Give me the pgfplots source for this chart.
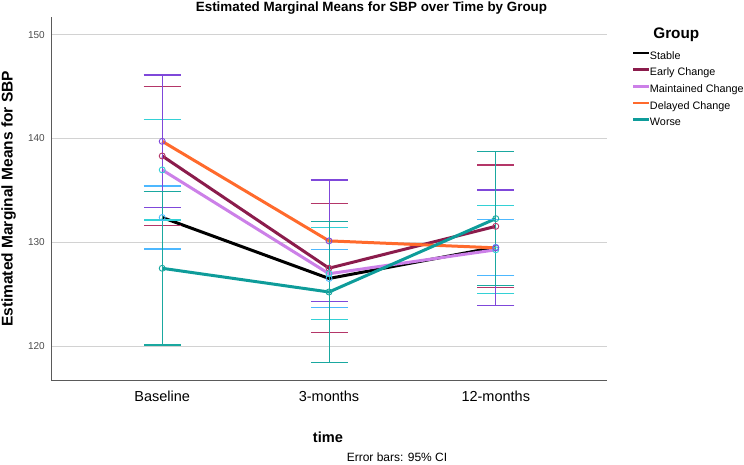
\documentclass[border=0pt]{standalone}
\usepackage{pgfplots}
\pgfplotsset{compat=1.18}
\usepackage{fontspec}
\setmainfont{Liberation Sans}
\definecolor{cEarly}{HTML}{8B1C4C}
\definecolor{cMaint}{HTML}{CC80E8}
\definecolor{cDelay}{HTML}{FF6A2C}
\definecolor{cWorse}{HTML}{0E9C9A}
\definecolor{eStable}{HTML}{4DB8FF}
\definecolor{eEarly}{HTML}{B43668}
\definecolor{eMaint}{HTML}{33D1D6}
\definecolor{eDelay}{HTML}{7F48DA}
\definecolor{eWorse}{HTML}{1AA8A0}
\definecolor{gridc}{HTML}{D2D2D2}
\definecolor{axc}{HTML}{5A5A5A}

\pgfplotstableread{
x y e
0 132.40 3.03
1 126.53 2.81
2 129.54 2.70
}\stable
\pgfplotstableread{
x y e
0 138.32 6.71
1 127.52 6.21
2 131.55 5.91
}\early
\pgfplotstableread{
x y e
0 136.98 4.82
1 126.99 4.43
2 129.29 4.23
}\maint
\pgfplotstableread{
x y e
0 139.73 6.39
1 130.15 5.86
2 129.48 5.57
}\delay
\pgfplotstableread{
x y e
0 127.51 7.38
1 125.23 6.77
2 132.29 6.45
}\worse

\pgfplotsset{
  errbar/.style={only marks, mark=o, mark size=3pt, mark options={line width=0.9pt, fill=none, draw=#1},
    error bars/.cd, y dir=both, y explicit,
    error mark=|, error mark options={mark size=18.5pt, line width=1.2pt, draw=#1},
    error bar style={line width=1pt, draw=#1}},
}

\begin{document}
\begin{tikzpicture}
\useasboundingbox (-51pt,-83.7pt) rectangle (693pt,380.3pt);
\begin{axis}[
  at={(0,0)}, anchor=south west, scale only axis,
  width=556pt, height=363pt,
  xmin=-0.667, xmax=2.667, ymin=116.73, ymax=151.67,
  xtick={0,1,2}, xticklabels={Baseline,3-months,12-months},
  ytick={120,130,140,150},
  axis x line*=bottom, axis y line*=left,
  axis line style={color=axc, line width=1pt},
  ymajorgrids, grid style={color=gridc, line width=1.2pt},
  major tick length=0pt,
  /pgf/number format/assume math mode=true,
  xticklabel style={font=\fontsize{14.5}{16}\selectfont, anchor=base, yshift=-21.2pt},
  yticklabel style={font=\fontsize{10}{12}\selectfont, text=black!70, anchor=east, inner sep=0pt, xshift=-6pt},
  legend cell align=left,
  legend style={at={(1.0444,0.9063)}, anchor=north west, draw=none, fill=none,
    inner sep=0pt, outer sep=0pt, row sep=6pt,
    nodes={inner sep=0pt, text height=8pt, text depth=2.6pt, font=\fontsize{10.8}{13}\selectfont},
    /tikz/every even column/.append style={column sep=1.2pt}},
  legend image code/.code={\draw[#1, line width=2.7pt] (0pt,3.5pt) -- (15.6pt,3.5pt);},
]
\addplot[black, line width=3pt] table[x=x,y=y] {\stable};
\addlegendentry{Stable}
\addplot[cEarly, line width=3pt] table[x=x,y=y] {\early};
\addlegendentry{Early Change}
\addplot[cMaint, line width=3pt] table[x=x,y=y] {\maint};
\addlegendentry{Maintained Change}
\addplot[cDelay, line width=3pt] table[x=x,y=y] {\delay};
\addlegendentry{Delayed Change}
\addplot[cWorse, line width=3pt] table[x=x,y=y] {\worse};
\addlegendentry{Worse}

\addplot[eStable, forget plot, errbar=eStable] table[x=x,y=y,y error=e] {\stable};
\addplot[eEarly, forget plot, errbar=eEarly] table[x=x,y=y,y error=e] {\early};
\addplot[eMaint, forget plot, errbar=eMaint] table[x=x,y=y,y error=e] {\maint};
\addplot[eDelay, forget plot, errbar=eDelay] table[x=x,y=y,y error=e] {\delay};
\addplot[eWorse, forget plot, errbar=eWorse] table[x=x,y=y,y error=e] {\worse};
\end{axis}
\node[anchor=base, font=\bfseries\fontsize{13.4}{15}\selectfont] at (320.5pt,368.9pt) {Estimated Marginal Means for SBP over Time by Group};
\node[rotate=90, anchor=base, font=\bfseries\fontsize{15.5}{18}\selectfont] at (-38.3pt,181.3pt) {Estimated Marginal Means for SBP};
\node[anchor=base, font=\bfseries\fontsize{14.6}{16}\selectfont] at (277pt,-61.7pt) {time};
\node[anchor=base, font=\fontsize{12}{14}\selectfont] at (346pt,-80.7pt) {Error bars: 95\% CI};
\node[anchor=base, font=\bfseries\fontsize{15.3}{17}\selectfont] at (625.3pt,341.3pt) {Group};
\end{tikzpicture}
\end{document}
